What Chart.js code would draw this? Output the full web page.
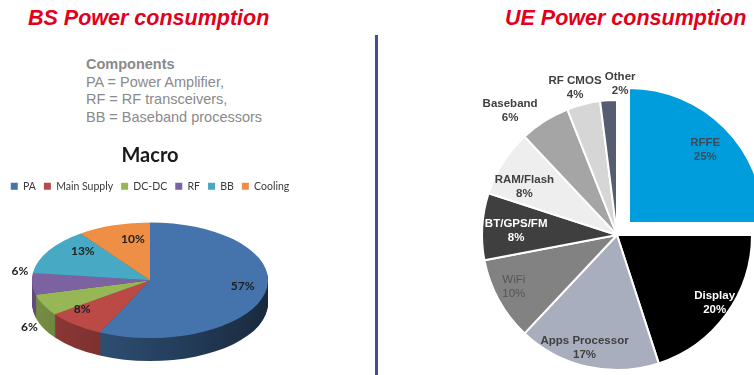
<!DOCTYPE html>
<html>
<head>
<meta charset="utf-8">
<script src="https://cdn.jsdelivr.net/npm/chart.js@4.4.1/dist/chart.umd.min.js"></script>
<style>
  body { margin: 0; width: 754px; height: 375px; overflow: hidden; background: #fff; position: relative; font-family: 'Liberation Sans', Arial, sans-serif; }
  .title { position: absolute; margin: 0; color: #e2001a; font: italic bold 21.5px 'Liberation Sans', Arial, sans-serif; white-space: nowrap; }
  #bsTitle { left: 28px; top: 6px; }
  #ueTitle { left: 505px; top: 6px; }
  #components { position: absolute; left: 86px; top: 56px; color: #8a8a8a; font-size: 14.5px; line-height: 17.7px; }
  #components b { font-weight: bold; }
  #divider { position: absolute; left: 375px; top: 35px; width: 2.5px; height: 340px; background: #40508f; }
  #bsChart { position: absolute; left: -20px; top: 140px; }
  #ueChart { position: absolute; left: 377px; top: 0; }
</style>
</head>
<body>
<div class="title" id="bsTitle">BS Power consumption</div>
<div class="title" id="ueTitle">UE Power consumption</div>
<div id="components"><b>Components</b><br>PA = Power Amplifier,<br>RF = RF transceivers,<br>BB = Baseband processors</div>
<div id="divider"></div>
<canvas id="bsChart" width="340" height="235"></canvas>
<canvas id="ueChart" width="410" height="405"></canvas>
<script>
// Base station (macro) share of power per component, in %
const bsLabels = ['PA', 'Main Supply', 'DC-DC', 'RF', 'BB', 'Cooling'];
const bsValues = [57, 8, 6, 6, 13, 10];

// Handset share of power per block, in %
const ueLabels = ['RFFE', 'Display', 'Apps Processor', 'WiFi', 'BT/GPS/FM', 'RAM/Flash', 'Baseband', 'RF CMOS', 'Other'];
const ueValues = [25, 20, 17, 10, 8, 8, 6, 4, 2];

const bsColors = ['#4574ac', '#bb4a47', '#97b656', '#7c62a0', '#47a9c3', '#ef8f45'];
const ueColors = ['#009ddc', '#000000', '#a9aebf', '#828282', '#3f3f3f', '#eeeeee', '#a5a5a5', '#d6d6d6', '#565d70'];
const ueTextColors = ['#3d4b5a', '#ffffff', '#404040', '#555555', '#ffffff', '#404040', '#404040', '#404040', '#404040'];

// hand nudges (px) so labels sit clear of each other and of slice edges
const bsLabelShift = [[4, -4], [-10, -5], [0, 19], [3, -8], [11, -6], [11, 1]];
const ueLabelShift = [[-3, 6], [7, 2], [-8, 3], [-5, -2], [11, 3], [2, 12], [-23, 8], [-3, 5], [13, 5]];

function shade(hex, k) {
  const n = parseInt(hex.slice(1), 16);
  const r = Math.round(((n >> 16) & 255) * k);
  const g = Math.round(((n >> 8) & 255) * k);
  const b = Math.round((n & 255) * k);
  return `rgb(${r},${g},${b})`;
}

// Squash the pie into an ellipse and extrude it downward to fake a 3D disc
const pie3d = {
  id: 'pie3d',
  geometry(chart, opts) {
    const a = chart.chartArea;
    return { cx: (a.left + a.right) / 2, cy: (a.top + a.bottom) / 2, rx: opts.radiusX, ry: opts.radiusX * opts.tilt };
  },
  beforeDatasetsDraw(chart, args, opts) {
    const ctx = chart.ctx;
    const arcs = chart.getDatasetMeta(0).data;
    const { cx, cy, rx, ry } = this.geometry(chart, opts);
    const r = arcs[0].outerRadius;
    const ox = arcs[0].x, oy = arcs[0].y;

    for (let d = opts.depth; d > 0; d--) {
      ctx.save();
      ctx.translate(cx, cy + d);
      ctx.scale(rx / r, ry / r);
      ctx.translate(-ox, -oy);
      arcs.forEach((arc, i) => {
        const g = ctx.createLinearGradient(ox - r, 0, ox + r, 0);
        g.addColorStop(0, shade(bsColors[i], 0.78));
        g.addColorStop(0.45, shade(bsColors[i], 0.6));
        g.addColorStop(1, shade(bsColors[i], 0.36));
        ctx.fillStyle = g;
        ctx.beginPath();
        ctx.moveTo(ox, oy);
        ctx.arc(ox, oy, r, arc.startAngle, arc.endAngle);
        ctx.closePath();
        ctx.fill();
      });
      ctx.restore();
    }

    ctx.save();
    ctx.translate(cx, cy);
    ctx.scale(rx / r, ry / r);
    ctx.translate(-ox, -oy);
  },
  afterDatasetsDraw(chart) {
    chart.ctx.restore();
  },
  afterDraw(chart, args, opts) {
    const ctx = chart.ctx;
    const { cx, cy, rx, ry } = this.geometry(chart, opts);
    ctx.save();
    ctx.font = 'bold 12px Lato, "Liberation Sans", sans-serif';
    ctx.fillStyle = '#1e1e1e';
    ctx.textAlign = 'center';
    ctx.textBaseline = 'middle';
    chart.getDatasetMeta(0).data.forEach((arc, i) => {
      const mid = (arc.startAngle + arc.endAngle) / 2;
      const outside = bsValues[i] <= 6;
      const f = outside ? 1.13 : 0.77;
      const drop = outside ? Math.sin(mid) * opts.depth * 0.6 - 6 : 0;
      const x = cx + Math.cos(mid) * rx * f + bsLabelShift[i][0];
      const y = cy + Math.sin(mid) * ry * f + drop + bsLabelShift[i][1];
      ctx.fillText(bsValues[i] + '%', x, y);
    });
    ctx.restore();
  }
};

new Chart(document.getElementById('bsChart'), {
  type: 'pie',
  data: {
    labels: bsLabels,
    datasets: [{
      data: bsValues,
      backgroundColor: bsColors,
      borderWidth: 0,
      clip: false
    }]
  },
  options: {
    responsive: false,
    animation: false,
    events: [],
    layout: { padding: { left: 0, right: 0, top: 0, bottom: 16 } },
    plugins: {
      pie3d: { radiusX: 118, tilt: 0.49, depth: 23 },
      title: {
        display: true,
        text: 'Macro',
        color: '#1a1a1a',
        font: { family: 'Lato', size: 20, weight: 'bold' },
        padding: { top: 4, bottom: 5 }
      },
      legend: {
        position: 'top',
        labels: {
          boxWidth: 7,
          boxHeight: 7,
          padding: 8,
          color: '#3a3a3a',
          font: { family: 'Lato', size: 10.5 }
        }
      },
      tooltip: { enabled: false }
    }
  },
  plugins: [pie3d]
});

// Two-line name/value labels; small slices get theirs outside the rim
const ueLabelPlugin = {
  id: 'ueLabels',
  afterDraw(chart) {
    const ctx = chart.ctx;
    ctx.save();
    ctx.textAlign = 'center';
    ctx.textBaseline = 'middle';
    chart.getDatasetMeta(0).data.forEach((arc, i) => {
      const mid = (arc.startAngle + arc.endAngle) / 2;
      // the arc element shifts itself by a quarter of its offset option
      const off = (arc.options.offset || 0) / 4;
      const inside = ueValues[i] >= 8;
      const dist = arc.outerRadius * (inside ? 0.83 : 1.16) + off;
      const x = arc.x + Math.cos(mid) * dist + ueLabelShift[i][0];
      const y = arc.y + Math.sin(mid) * dist + ueLabelShift[i][1];
      const weight = ueLabels[i] === 'WiFi' ? 'normal' : 'bold';
      ctx.font = `${weight} 11.5px "Liberation Sans", Arial, sans-serif`;
      ctx.fillStyle = ueTextColors[i];
      ctx.fillText(ueLabels[i], x, y - 7);
      ctx.fillText(ueValues[i] + '%', x, y + 7);
    });
    ctx.restore();
  }
};

new Chart(document.getElementById('ueChart'), {
  type: 'pie',
  data: {
    labels: ueLabels,
    datasets: [{
      data: ueValues,
      backgroundColor: ueColors,
      borderColor: '#ffffff',
      borderWidth: 2,
      offset: ueValues.map((v, i) => i === 0 ? 68 : 0)
    }]
  },
  options: {
    responsive: false,
    animation: false,
    events: [],
    layout: { padding: { left: 70, top: 65, right: 0, bottom: 0 } },
    plugins: {
      legend: { display: false },
      tooltip: { enabled: false }
    }
  },
  plugins: [ueLabelPlugin]
});
</script>
</body>
</html>
